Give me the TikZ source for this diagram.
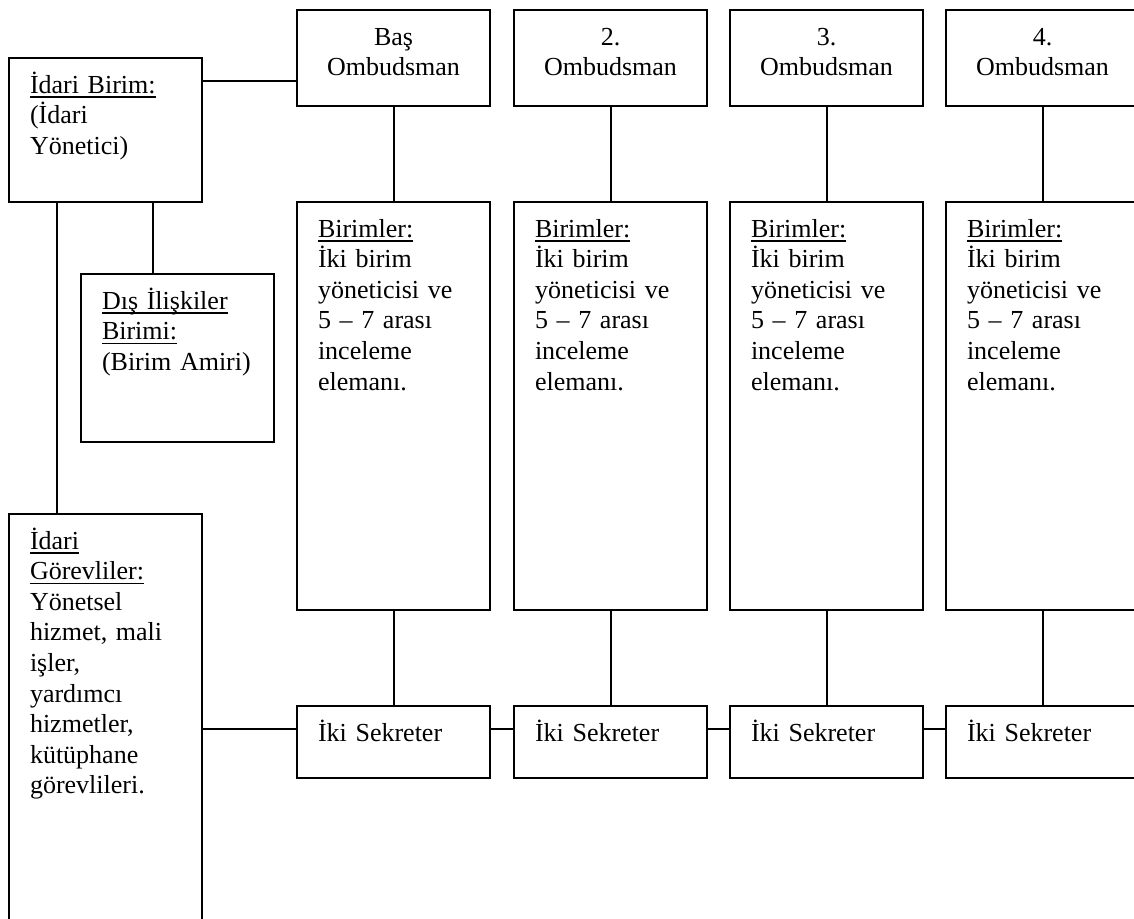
\documentclass[tikz,border=0pt]{standalone}
\usepackage{fontspec}
\setmainfont{Liberation Serif}
\newcommand{\undl}[1]{\leavevmode\setbox0\hbox{#1}\rlap{\smash{\rule[-2.4pt]{\wd0}{0.8pt}}}\box0}
\begin{document}
\begin{tikzpicture}[x=0.5pt, y=-0.5pt,
  box/.style={draw, line width=1pt, anchor=north west, inner xsep=10.5pt, inner ysep=0pt,
    text width=75.5pt, align=left, font=\fontsize{13}{15.3}\selectfont, text height=17.5pt},
  head/.style={box, align=center, text depth=30.5pt},
  unit/.style={box, text depth=186.5pt},
  sec/.style={box, text depth=18.5pt}]
  \clip (0,0) rectangle (1134,918);
  % left side
  \node[box, text depth=54.5pt] (idari) at (8,57) {\undl{İdari Birim:}\\(İdari\\Yönetici)};
  \node[box, text depth=66.5pt] (dis) at (80,273) {\undl{Dış İlişkiler}\\\undl{Birimi:}\\(Birim Amiri)};
  \node[box, text depth=192.5pt] (gorev) at (8,513) {\undl{İdari}\\\undl{Görevliler:}\\Yönetsel\\hizmet, mali\\işler,\\yardımcı\\hizmetler,\\kütüphane\\görevlileri.};
  % ombudsman columns
  \node[head] (om1) at (296,9) {Baş\\Ombudsman};
  \node[head] (om2) at (513,9) {2.\\Ombudsman};
  \node[head] (om3) at (729,9) {3.\\Ombudsman};
  \node[head] (om4) at (945,9) {4.\\Ombudsman};
  \foreach \i/\x in {1/296, 2/513, 3/729, 4/945} {
    \node[unit] (bir\i) at (\x,201) {\undl{Birimler:}\\İki birim\\yöneticisi ve\\5 -- 7 arası\\inceleme\\elemanı.};
    \node[sec] (sek\i) at (\x,705) {İki Sekreter};
    \draw[line width=1pt] (om\i.south) -- (bir\i.north);
    \draw[line width=1pt] (bir\i.south) -- (sek\i.north);
  }
  % links
  \path (idari.north east) ++(0,24) coordinate (ib);
  \draw[line width=1pt] (ib) -- (ib -| om1.west);
  \path (idari.south west) ++(145,0) coordinate (id);
  \draw[line width=1pt] (id) -- (id |- dis.north);
  \path (idari.south west) ++(49,0) coordinate (ig);
  \draw[line width=1pt] (ig) -- (ig |- gorev.north);
  \path (sek1.north west) ++(0,24) coordinate (s1);
  \draw[line width=1pt] (s1 -| gorev.east) -- (s1);
  \foreach \a/\b in {1/2, 2/3, 3/4} {
    \path (sek\a.north east) ++(0,24) coordinate (s\a\b);
    \draw[line width=1pt] (s\a\b) -- (s\a\b -| sek\b.west);
  }
\end{tikzpicture}
\end{document}
